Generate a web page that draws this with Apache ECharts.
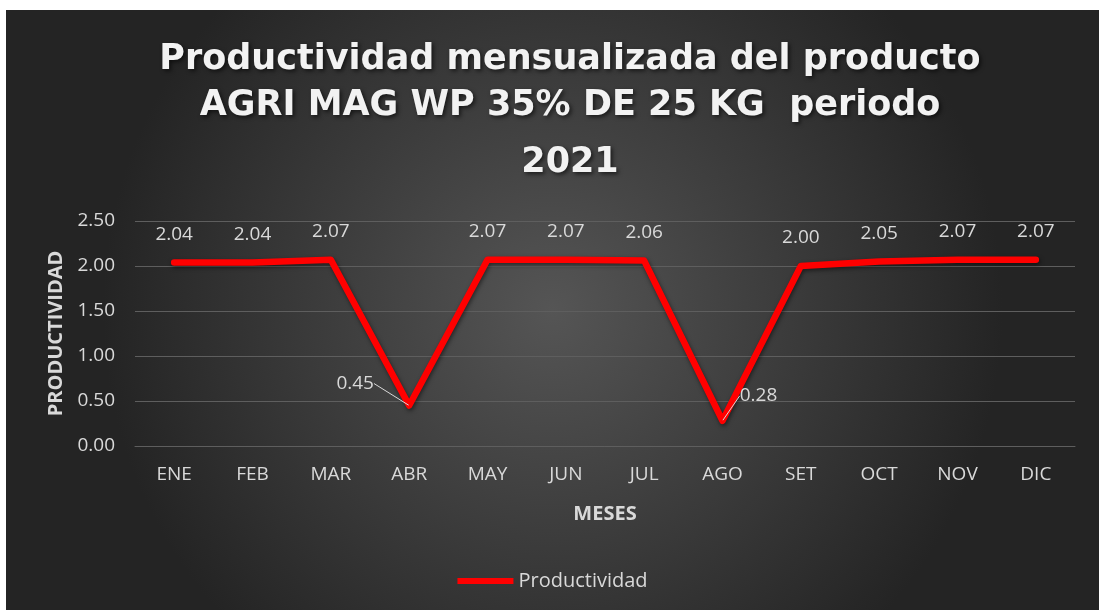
<!DOCTYPE html>
<html><head><meta charset="utf-8">
<script src="https://cdn.jsdelivr.net/npm/echarts@6/dist/echarts.min.js"></script>
<style>
html,body{margin:0;padding:0;background:#fff;}
#c{position:absolute;left:6px;top:10px;width:1093px;height:600px;}
</style></head>
<body><div id="c"></div>
<script>
const titleLines = ['Productividad mensualizada del producto', 'AGRI MAG WP 35% DE 25 KG  periodo', '2021'];
const categories = ['ENE','FEB','MAR','ABR','MAY','JUN','JUL','AGO','SET','OCT','NOV','DIC'];
const values = [2.04, 2.04, 2.07, 0.45, 2.07, 2.07, 2.06, 0.28, 2.00, 2.05, 2.07, 2.07];
const yTicks = {min: 0, max: 2.5, interval: 0.5};
const seriesName = 'Productividad';
const xName = 'MESES';
const yName = 'PRODUCTIVIDAD';

const font = '"Open Sans", "Noto Sans", sans-serif';
const titleTops = [25, 71, 128];
const leaderIdx = [3, 7];
const chart = echarts.init(document.getElementById('c'));
chart.setOption({
  backgroundColor: {
    type: 'radial', x: 0.5, y: 0.5, r: 0.75,
    colorStops: [{offset: 0, color: '#555555'}, {offset: 1, color: '#242424'}]
  },
  title: titleLines.map((t, i) => ({
    text: t, left: 559, textAlign: 'center', top: titleTops[i],
    textStyle: {
      fontFamily: '"DejaVu Sans", sans-serif', fontWeight: 'bold', fontSize: 35, color: '#f2f2f2',
      lineHeight: 40,
      textShadowColor: 'rgba(0,0,0,0.6)', textShadowBlur: 4, textShadowOffsetX: 2, textShadowOffsetY: 2
    }
  })),
  legend: {
    bottom: 14, left: 'center',
    itemWidth: 56, itemHeight: 6, itemGap: 4,
    data: [{name: seriesName, icon: 'rect'}],
    textStyle: {color: '#d9d9d9', fontSize: 20, fontFamily: font}
  },
  grid: {left: 129, right: 24, top: 211, bottom: 164},
  xAxis: {
    type: 'category', data: categories, boundaryGap: true,
    name: xName, nameLocation: 'middle', nameGap: 58,
    nameTextStyle: {color: '#d9d9d9', fontWeight: 'bold', fontSize: 20, fontFamily: font},
    axisLine: {show: true, lineStyle: {color: '#5e5e5e', width: 1}},
    axisTick: {show: false},
    axisLabel: {color: '#d9d9d9', fontSize: 19, fontFamily: font, margin: 19}
  },
  yAxis: {
    type: 'value', min: yTicks.min, max: yTicks.max, interval: yTicks.interval,
    name: yName, nameLocation: 'middle', nameGap: 69, nameRotate: 90,
    nameTextStyle: {color: '#d9d9d9', fontWeight: 'bold', fontSize: 20, fontFamily: font},
    axisLine: {show: false}, axisTick: {show: false},
    splitLine: {lineStyle: {color: '#5e5e5e', width: 1}},
    axisLabel: {color: '#d9d9d9', fontSize: 19, fontFamily: font, margin: 20,
      formatter: v => v.toFixed(2)}
  },
  series: [{
    name: seriesName, type: 'line',
    data: values.map((v, i) => ({value: v, labelLine: {show: leaderIdx.includes(i)}})),
    symbol: 'circle', symbolSize: 1, showSymbol: true, smooth: false,
    lineStyle: {color: '#ff0000', width: 6.5, cap: 'round', join: 'round',
      shadowColor: 'rgba(0,0,0,0.5)', shadowBlur: 4, shadowOffsetX: 1, shadowOffsetY: 2},
    itemStyle: {color: '#ff0000'},
    label: {show: true, position: 'top', distance: 18, color: '#d9d9d9', fontSize: 19, fontFamily: font,
      formatter: p => p.value.toFixed(2)},
    labelLine: {show: false, lineStyle: {color: '#d9d9d9', width: 1}},
    labelLayout: function (p) {
      if (p.dataIndex === 3) return {dx: -54, dy: 6};
      if (p.dataIndex === 7) return {dx: 36, dy: 3};
      return {};
    }
  }]
});
</script>
</body></html>
